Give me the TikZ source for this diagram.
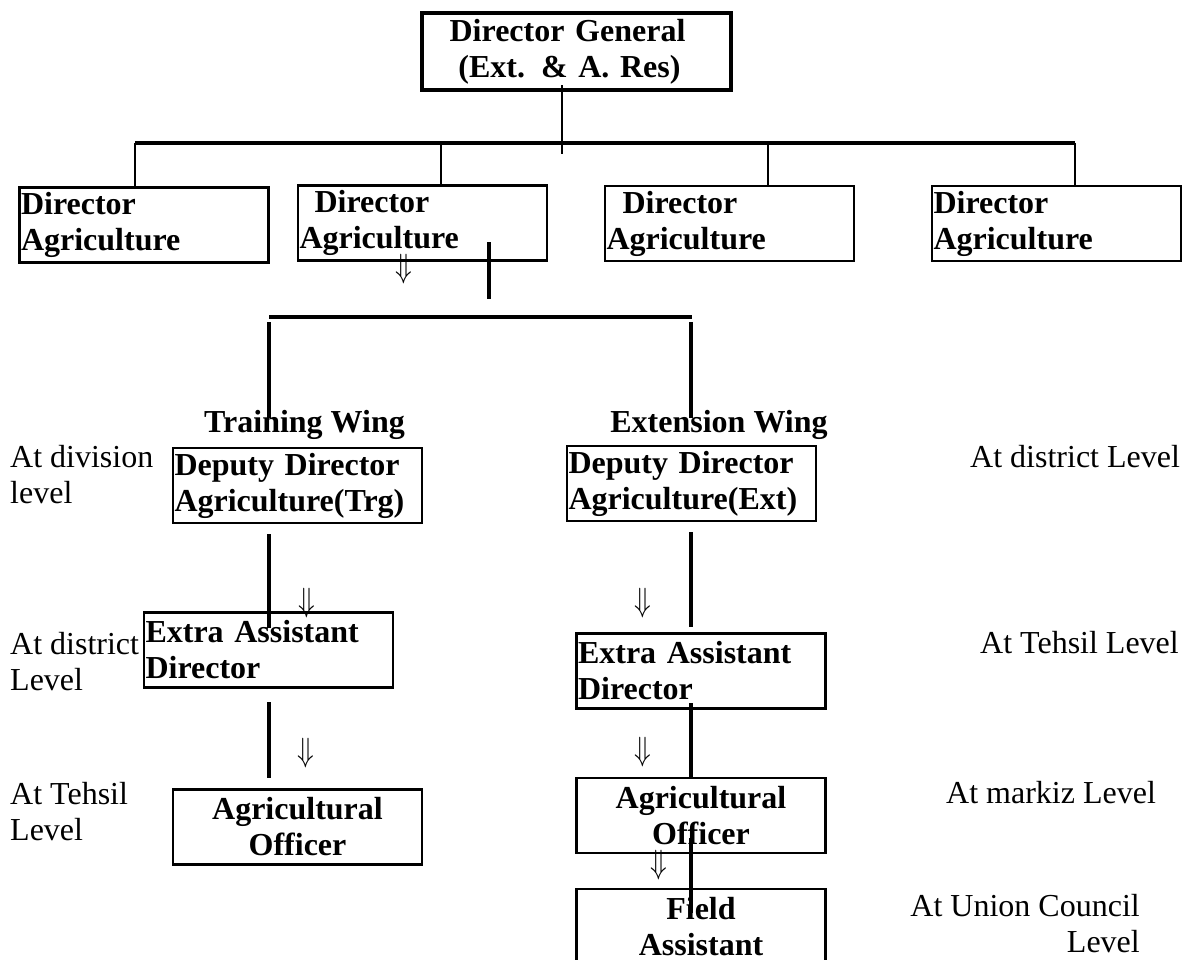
\documentclass[tikz,border=0pt]{standalone}
\usepackage{fontspec}
\setmainfont{Liberation Serif}
\newcommand{\chartfont}{\fontsize{32}{36}\selectfont}
\newcommand{\downarr}{\scalebox{1.1}[1.35]{$\Downarrow$}}

\begin{document}
\begin{tikzpicture}[x=1pt, y=-1pt, font=\chartfont,
        box/.style={draw, line width=2.2pt, inner xsep=1.5pt, inner ysep=0pt, font=\chartfont\bfseries,
            minimum width=249pt, minimum height=75pt, text width=246pt, align=left},
        cbox/.style={box, align=center},
        lvl/.style={inner sep=0pt, align=left, font=\chartfont},
        wing/.style={inner sep=0pt, font=\chartfont\bfseries},
        dn/.style={inner sep=0pt, font=\chartfont},
        bar/.style={line width=4pt},
        drop/.style={line width=2.5pt}]
        \clip (0, 0) rectangle (1184, 960);
        \node[box, line width=4.5pt, minimum width=309pt, minimum height=77pt, text width=300pt, align=center]
            (dg) at (576.5, 51.5) {Director General\hbox to 18pt{}\\(Ext. \& A. Res)\hbox to 14pt{}};
        \foreach \n/\x/\y/\s in {da1/144/225/0, da2/422.5/223/15, da3/729.5/223.5/16, da4/1056.5/223.5/0}
            \node[box] (\n) at (\x, \y) {\hspace*{\s pt}Director\\Agriculture};
        \draw[line width=1.5pt] ([xshift=-14.5pt]dg.south) ++(0, -7) -- ++(0, 69);
        \foreach \i/\x in {1/135, 2/441, 3/768, 4/1075} {
            \coordinate (b\i) at (\x, 143);
            \draw[drop] (b\i) -- (b\i |- da\i.north);
        }
        \draw[bar] (b1) -- (b4);
        \draw[bar] ([xshift=66.5pt]da2.south) ++(0, -19.5) -- ++(0, 57);
        \node[dn] (a0) at (404, 269) {\downarr};
        % the two wings
        \coordinate (lb1) at (269, 317);
        \coordinate (lb2) at (691, 317);
        \draw[bar] (lb1) -- ([xshift=1pt]lb2);
        \node[wing, anchor=base] (trg) at (304.5, 432) {Training Wing};
        \node[wing, anchor=base] (ext) at (719, 432) {Extension Wing};
        \draw[bar] ([yshift=-5pt]lb1) -- ([yshift=6pt]lb1 |- trg.center);
        \draw[bar] ([yshift=-5pt]lb2) -- ([yshift=6pt]lb2 |- ext.center);
        \node[box] (ddt) at (297.5, 485.5) {Deputy Director\\Agriculture(Trg)};
        \node[box] (dde) at (691.5, 483.5) {Deputy Director\\Agriculture(Ext)};
        \node[box] (eat) at (268.5, 650) {Extra Assistant\\Director};
        \node[box] (eae) at (701, 671) {Extra Assistant\\Director};
        \node[cbox] (aot) at (297.5, 827) {Agricultural\\Officer};
        \node[cbox] (aoe) at (701, 815.5) {Agricultural\\Officer};
        \node[cbox] (fa) at (701, 926.5) {Field\\Assistant};
        \draw[bar] (ddt.south -| lb1) ++(0, 10) -- ++(0, 94);
        \draw[bar] (dde.south -| lb2) ++(0, 10) -- ++(0, 95);
        \draw[bar] (eat.south -| lb1) ++(0, 13.5) -- ++(0, 76);
        \draw[bar] ([yshift=6.5pt]eae.south -| lb2) -- (lb2 |- aoe.north);
        \draw[bar] ([yshift=-22.5pt]aoe.center -| lb2) -- ([yshift=13.5pt]fa.center -| lb2);
        \foreach \n/\x/\y in {a1/307/603, a2/643/603.5, a3/306/753, a4/643/752.5, a5/659/865}
            \node[dn] (\n) at (\x, \y) {\downarr};
        % levels
        \node[lvl, anchor=base west] (l1) at (10, 503) {At division\\level};
        \node[lvl, anchor=base west] (l2) at (10, 690) {At district\\Level};
        \node[lvl, anchor=base west] (l3) at (10, 840) {At Tehsil\\Level};
        \node[lvl, anchor=base west] (r1) at (970, 467) {At district Level};
        \node[lvl, anchor=base west] (r2) at (980, 653) {At Tehsil Level};
        \node[lvl, anchor=base west] (r3) at (946, 803) {At markiz Level};
        \node[lvl, align=right, anchor=base east] (r4) at (1140, 952) {At Union Council\\Level};
    \end{tikzpicture}
\end{document}
